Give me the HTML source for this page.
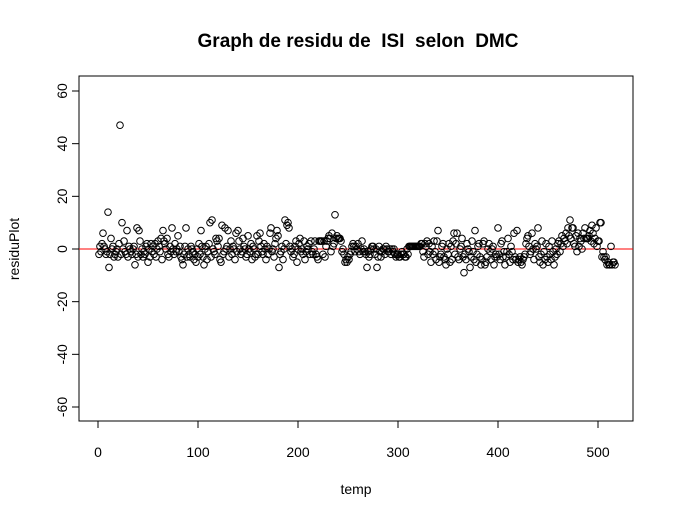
<!DOCTYPE html>
<html><head><meta charset="utf-8"><style>
html,body{margin:0;padding:0;background:#fff;}
svg{display:block;font-family:"Liberation Sans",Arial,sans-serif;}
</style></head><body>
<svg id="chart" width="675" height="519">
<text x="358" y="47" text-anchor="middle" font-size="19" font-weight="bold" style="white-space:pre">Graph de residu de  ISI  selon  DMC</text>
<rect x="79" y="76" width="554" height="345" fill="none" stroke="#000"/>
<g id="xaxis"></g>
<g id="yaxis"></g>
<line id="zero" stroke="#ff0000" stroke-width="1"/>
<g id="points"></g>
<text x="356" y="494" text-anchor="middle" font-size="14">temp</text>
<text x="0" y="0" transform="translate(19,249) rotate(-90)" text-anchor="middle" font-size="14">residuPlot</text>
</svg>
<script>
const xTicks=[0,100,200,300,400,500];
const yTicks=[-60,-40,-20,0,20,40,60];
const residuals=[
-2,1,-1,2,6,1,0,-2,-1,14,-7,-2,4,0,1,-3,-2,-1,0,-3,
2,47,-2,10,0,3,-1,-2,7,-3,1,0,-1,-2,0,1,-6,-2,8,-3,
7,3,-2,0,-3,-1,-2,1,2,-5,0,-3,2,-1,1,-2,2,-3,0,3,
1,-1,4,-4,7,3,2,0,4,-2,-3,1,-1,8,0,-2,2,-1,0,5,
-1,1,-3,-4,-6,-2,1,8,-3,0,-2,-3,1,0,-1,-4,-2,-5,0,-3,
2,-2,7,1,-3,-6,0,1,-4,-1,2,10,-3,11,0,-1,-2,4,3,1,
4,-4,-5,9,-2,-1,8,0,1,7,-3,0,3,-2,1,0,-4,6,-1,7,
3,0,-2,-1,4,1,0,-3,-2,5,0,-1,2,-4,1,0,-3,-2,5,-2,
3,6,1,-1,-2,2,0,-4,1,-2,0,6,8,-1,0,-3,2,4,7,5,
-7,-2,-1,1,-4,0,11,2,9,10,8,1,-1,0,-3,-2,1,3,-5,0,
2,4,-1,0,-2,3,-4,-1,1,0,2,-2,3,-1,-2,0,3,-2,-3,-4,
3,3,3,3,-2,3,-3,1,3,4,5,4,-1,6,1,2,13,4,5,4,
4,4,3,-1,0,-2,-5,-4,-5,-3,-4,-2,-1,1,2,1,-1,1,0,2,
-1,-2,0,3,-1,0,-1,-2,-7,-1,-3,-2,0,1,1,0,-2,0,-7,-3,
1,-1,-3,-1,0,0,-2,1,0,-1,-1,0,-2,0,-1,0,-2,-3,-2,-2,
-3,-3,-2,-1,-2,-2,-3,-3,0,-2,1,1,1,1,1,1,1,1,1,1,
1,1,2,2,-1,-3,2,1,3,-2,2,-1,-5,1,-2,3,-1,-4,3,7,
-5,-3,-2,1,2,-3,-4,-6,0,-2,2,-5,1,-4,3,6,-2,2,6,-3,
-4,0,1,4,-3,-9,-2,-4,2,0,-1,-7,-3,3,-1,-4,7,-5,-2,1,
2,-3,-6,-4,2,3,-6,-5,-3,0,2,-1,-4,0,1,-6,-3,-2,-3,8,
-2,-4,2,3,-3,-1,-6,-3,-1,4,-2,-5,1,-1,-4,6,-3,-4,7,-5,
-4,-3,-5,-6,-4,-3,-2,2,4,5,1,-2,-1,6,0,-4,2,0,1,8,
-3,-5,-2,3,-6,-1,-4,2,-3,-5,1,-2,-4,3,-1,-6,-3,0,-2,2,
3,-1,2,5,1,4,3,6,2,8,5,11,4,8,8,2,1,5,-1,6,
1,4,3,0,6,4,8,4,4,4,5,7,3,9,6,2,4,8,1,3,
3,10,10,-3,-1,-3,-4,-3,-6,-5,
-6,-6,1,-6,-5,-5,-6
];
const NS='http://www.w3.org/2000/svg';
function sx(v){return 98+v*(500/500);}
function sy(v){return 249-v*(158/60);}
const xa=document.getElementById('xaxis');
const ya=document.getElementById('yaxis');
function mk(tag,attrs,parent){const e=document.createElementNS(NS,tag);for(const k in attrs)e.setAttribute(k,attrs[k]);parent.appendChild(e);return e;}
mk('line',{x1:sx(0),x2:sx(500),y1:421,y2:421,stroke:'#000'},xa);
xTicks.forEach(t=>{
  const l=mk('line',{x1:sx(t),x2:sx(t),y1:421,y2:428,stroke:'#000'},xa);
  
  
  const tx=mk('text',{x:sx(t),y:457,'text-anchor':'middle','font-size':14},xa);
  tx.textContent=t;
  
  
});
mk('line',{x1:79,x2:79,y1:sy(-60),y2:sy(60),stroke:'#000'},ya);
yTicks.forEach(t=>{
  const l=mk('line',{x1:72,x2:79,y1:sy(t),y2:sy(t),stroke:'#000'},ya);
  
  
  const tx=mk('text',{x:0,y:0,transform:'translate(67,'+sy(t)+') rotate(-90)','text-anchor':'middle','font-size':14},ya);
  tx.textContent=t;
  
  
});
const z=document.getElementById('zero');
z.setAttribute('x1',79);z.setAttribute('x2',633);z.setAttribute('y1',sy(0));z.setAttribute('y2',sy(0));
const pg=document.getElementById('points');
residuals.forEach((v,i)=>{
  const c=mk('circle',{cx:sx(i+1),cy:sy(v),r:3.3,fill:'none',stroke:'#000','stroke-width':1},pg);
  
  
});
</script>
</body></html>
